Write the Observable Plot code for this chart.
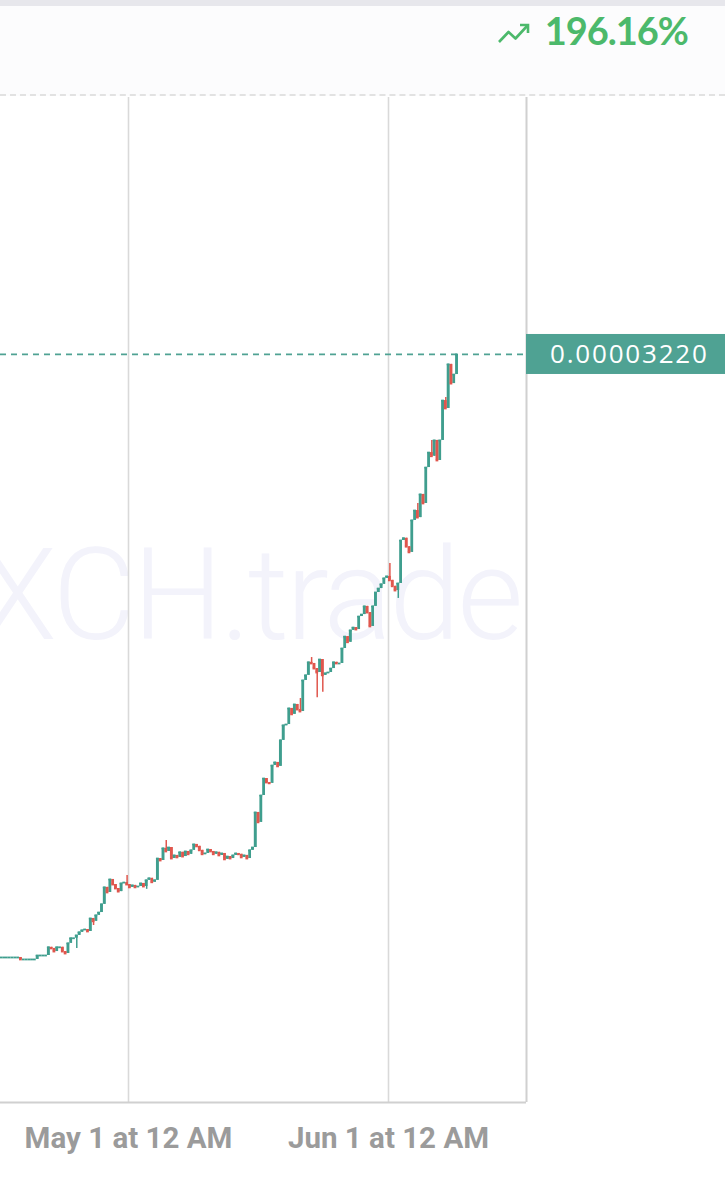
<!DOCTYPE html>
<html><head><meta charset="utf-8">
<script src="https://cdn.jsdelivr.net/npm/d3@7"></script>
<script src="https://cdn.jsdelivr.net/npm/@observablehq/plot@0.6"></script>
<style>
body{margin:0;background:#fff;width:725px;height:1200px;overflow:hidden}
#strip{height:6px;background:#e7e7ec}
#head{height:90px;background:#fcfcfd;border-bottom:2px dashed #e2e2e2;box-sizing:border-box}
#head svg{display:block}
#chart svg{display:block}
</style></head><body>
<div id="strip"></div>
<div id="head"></div>
<div id="chart"></div>
<script>
// ---- data (prices in units of 1e-8) ----
const changePct = 196.16;
const candleStart = [2023, 3, 15, 16]; // Apr 15, 16:00 local
const candleHours = 8;
const closeE8 = [
  1087,1087,1087,1087,1087,1087,1087,1080,1080,1080,
  1080,1080,1080,1094,1094,1094,1094,1123,1119,1108,
  1123,1123,1108,1101,1137,1155,1155,1165,1176,1183,
  1186,1179,1225,1215,1236,1246,1275,1335,1317,1363,
  1345,1331,1320,1349,1352,1345,1335,1342,1335,1338,
  1349,1338,1360,1367,1353,1360,1437,1430,1473,1462,
  1476,1437,1448,1441,1459,1444,1462,1452,1466,1487,
  1480,1466,1452,1455,1469,1462,1452,1459,1448,1455,
  1434,1444,1437,1448,1455,1452,1441,1448,1437,1466,
  1476,1600,1565,1660,1720,1706,1703,1766,1777,1763,
  1855,1908,1911,1968,1947,1982,1964,1957,2067,2085,
  2131,2127,2109,2095,2141,2085,2092,2095,2109,2131,
  2127,2127,2180,2222,2202,2244,2254,2247,2293,2300,
  2329,2307,2258,2329,2378,2392,2407,2428,2435,2421,
  2400,2385,2410,2562,2570,2540,2520,2633,2668,2643,
  2725,2693,2820,2873,2860,2916,2845,2916,3057,3029,
  3185,3117,3149,3220
];
const wickHighE8 = {45:1377, 59:1501, 107:2003, 111:2148, 139:2481, 149:2693, 154:2916, 159:3068};
const wickLowE8 = {27:1119, 33:1200, 52:1328, 113:2006, 115:2025, 142:2357};
const lastPriceLabel = "0.00003220";
const xTicks = [[2023, 4, 1], [2023, 5, 1]];
const xDomain = [[2023, 3, 15, 17, 43], [2023, 5, 17, 10, 53]];
const yDomainE8 = [574, 4129];

// ---- colors ----
const UP = "#3f9e8e", DOWN = "#e0564d", LABEL = "#4fa293";

// ---- header ----
document.getElementById("head").innerHTML = `
<svg width="725" height="88">
  <polyline points="499,36 508.5,26 515.5,32.5 528,19" fill="none" stroke="#4cb96b" stroke-width="2.6" stroke-linejoin="round"/>
  <polyline points="520,19 528,19 528,27" fill="none" stroke="#4cb96b" stroke-width="2.6"/>
  <text x="688" y="39" text-anchor="end" font-family="Lato" font-weight="bold" font-size="38" letter-spacing="-1" fill="#4cb96b">${changePct.toFixed(2)}%</text>
</svg>`;

// ---- build candles ----
const start = new Date(...candleStart);
const rows = closeE8.map((c, i) => {
  const o = i ? closeE8[i - 1] : c;
  const hi = wickHighE8[i] ?? Math.max(o, c);
  const lo = wickLowE8[i] ?? Math.min(o, c);
  return {
    t: d3.timeHour.offset(start, candleHours * i),
    t2: d3.timeHour.offset(start, candleHours * (i + 1)),
    tm: d3.timeMinute.offset(start, 60 * candleHours * i + 30 * candleHours),
    open: o * 1e-8, close: c * 1e-8, high: hi * 1e-8, low: lo * 1e-8
  };
});
const up = rows.filter(d => d.close >= d.open);
const down = rows.filter(d => d.close < d.open);
const last = rows[rows.length - 1].close;
const xd = xDomain.map(a => new Date(...a));
const yd = yDomainE8.map(v => v * 1e-8);
const ticks = xTicks.map(a => new Date(...a));
const fmt = d3.timeFormat("%b %-d at %-I %p");

const chart = Plot.plot({
  width: 725,
  height: 1104,
  marginTop: 1,
  marginBottom: 98,
  marginLeft: 0,
  marginRight: 199,
  style: {background: "#fff", color: "#9b9b9b", fontFamily: "Roboto", overflow: "visible"},
  x: {type: "time", domain: xd, axis: null},
  y: {domain: yd, axis: null},
  marks: [
    Plot.text(["XCH.trade"], {frameAnchor: "right", dx: -6, dy: -2, textAnchor: "end", fontSize: 128, fontWeight: 300, fontFamily: "Roboto", fill: "#f3f3fb", letterSpacing: "-3px", style: "letter-spacing:-3px"}),
    Plot.gridX(ticks, {stroke: "#d9d9d9", strokeOpacity: 1, strokeWidth: 1.6}),
    Plot.ruleX([xd[1]], {stroke: "#d0d0d0", strokeWidth: 2}),
    Plot.ruleY([yd[0]], {stroke: "#d0d0d0", strokeWidth: 2}),
    Plot.ruleY([last], {stroke: LABEL, strokeWidth: 1.8, strokeDasharray: "6,5"}),
    Plot.ruleX(up, {x: "tm", y1: "low", y2: "high", stroke: UP, strokeWidth: 1.5}),
    Plot.ruleX(down, {x: "tm", y1: "low", y2: "high", stroke: DOWN, strokeWidth: 1.5}),
    Plot.rect(up, {x1: "t", x2: "t2", y1: "open", y2: "close", fill: UP}),
    Plot.rect(down, {x1: "t", x2: "t2", y1: "open", y2: "close", fill: DOWN}),
    Plot.ruleY(up, {x1: "t", x2: "t2", y: "close", stroke: UP, strokeWidth: 1.8}),
    Plot.ruleY(down, {x1: "t", x2: "t2", y: "close", stroke: DOWN, strokeWidth: 1.8}),
    Plot.axisX(ticks, {tickSize: 0, tickPadding: 25, tickFormat: fmt, fontSize: 29.5, fontWeight: "bold", fontFamily: "Roboto", fill: "#9b9b9b", label: null})
  ]
});
document.getElementById("chart").append(chart);

// watermark letter spacing (applied to the text mark's element)
chart.querySelectorAll("text").forEach(el => { if (el.textContent === "XCH.trade") el.setAttribute("letter-spacing", "-3"); });

// last price tag in the right margin, placed with the chart's own y scale
const ys = chart.scale("y").apply(last);
const ns = "http://www.w3.org/2000/svg";
const g = document.createElementNS(ns, "g");
const r = document.createElementNS(ns, "rect");
r.setAttribute("x", 526); r.setAttribute("y", ys - 20);
r.setAttribute("width", 199); r.setAttribute("height", 40);
r.setAttribute("fill", LABEL);
const tx = document.createElementNS(ns, "text");
tx.setAttribute("x", 550); tx.setAttribute("y", ys);
tx.setAttribute("dy", "0.36em");
tx.setAttribute("text-anchor", "start");
tx.setAttribute("fill", "#fff");
tx.setAttribute("font-family", "Open Sans");
tx.setAttribute("font-size", "26");
tx.setAttribute("letter-spacing", "1.8");
tx.textContent = lastPriceLabel;
g.append(r, tx);
chart.append(g);
</script>
</body></html>
